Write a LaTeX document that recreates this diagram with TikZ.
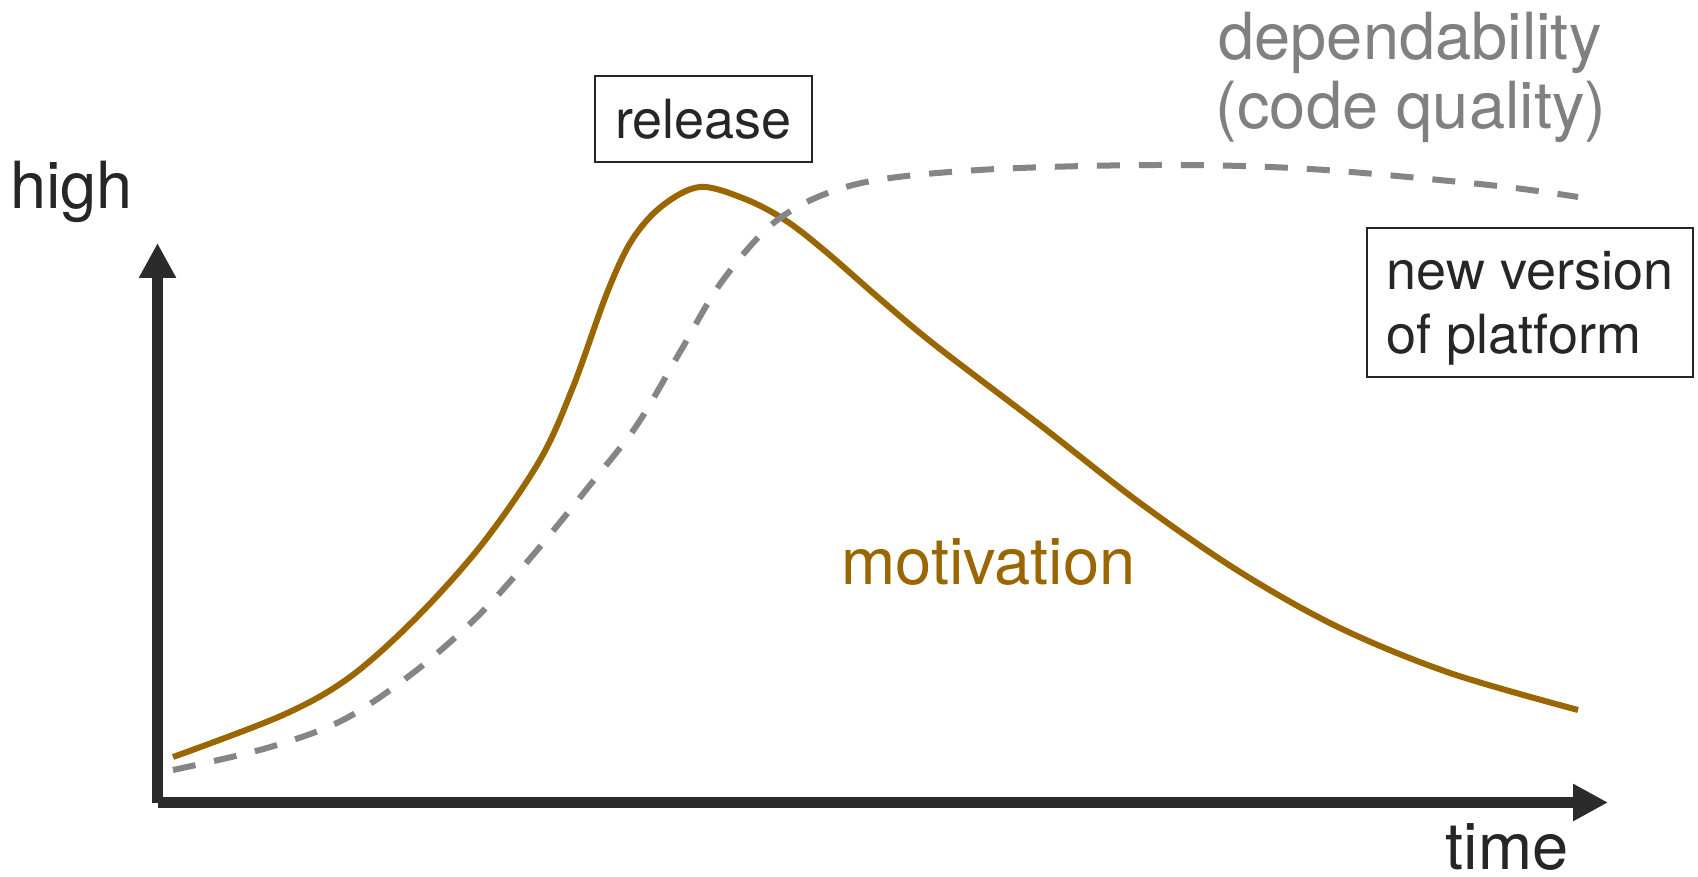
\documentclass[tikz,border=0pt]{standalone}
\usepackage{fontspec}
\setmainfont{TeX Gyre Heros}
\usetikzlibrary{arrows.meta}
\definecolor{ink}{HTML}{262626}
\definecolor{axiscol}{HTML}{2B2B2B}
\definecolor{mot}{HTML}{996600}
\definecolor{dep}{HTML}{858585}
\definecolor{deptext}{HTML}{808080}
\begin{document}
\begin{tikzpicture}[x=1pt,y=-1pt,
  axisline/.style={line width=11pt, draw=axiscol, -{Triangle[length=35pt,width=35pt]}},
  bigtext/.style={font=\fontsize{65}{70}\selectfont, text=ink, inner sep=0pt, anchor=base},
  boxnode/.style={draw=ink, line width=2pt, inner sep=0pt, font=\fontsize{54}{64}\selectfont, text=ink},
  motcurve/.style={draw=mot, line width=6pt},
  depcurve/.style={draw=dep, line width=6pt, dash pattern=on 23pt off 19pt}]
\useasboundingbox[fill=white] (0,0) rectangle (1698,877);

% axes
\coordinate (O) at (157.5,802.5);
\coordinate (ytip) at (157.5,243);
\coordinate (xtip) at (1608,802.5);
\draw[axisline] (O) -- (ytip);
\draw[axisline] (O) -- (xtip);

% labels
\node[bigtext] (high) at (71.5,209) {high};
\node[bigtext] (time) at (1507,869) {time};
\node[bigtext, text=mot] (motivation) at (988.5,584) {motivation};
\node[bigtext, text=deptext] (dep1) at (1410,60) {dependability};
\node[bigtext, text=deptext] (dep2) at (1411,129) {(code quality)};

% boxes
\node[boxnode, minimum width=217pt, minimum height=86pt] (release) at (703.5,119) {release};
\node[boxnode, minimum width=326pt, minimum height=149pt, align=left] (platform) at (1530,302.5) {\rule{0pt}{50pt}new version\\of platform};

% motivation curve
\draw[motcurve] plot[smooth, tension=0.55] coordinates {
  (173,757) (283,715) (350,677) (417,617) (483,543) (540,460) (573,387)
  (607,293) (632,240) (662,206) (700,187) (745,199) (785,220) (825,251)
  (880,299) (935,345) (1040,425) (1140,503) (1240,572) (1340,628)
  (1450,673) (1578,710)};

% dependability curve
\draw[depcurve] plot[smooth, tension=0.55] coordinates {
  (173,770) (267,748) (343,720) (413,673) (477,617) (533,555) (590,485)
  (637,425) (680,352) (723,280) (780,218) (857,184) (979,170) (1157,165)
  (1310,169) (1489,185) (1578,197)};
\end{tikzpicture}
\end{document}
